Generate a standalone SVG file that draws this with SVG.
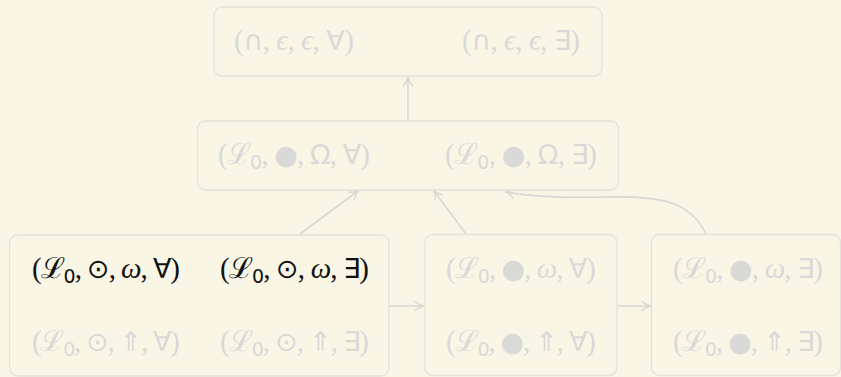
<svg xmlns="http://www.w3.org/2000/svg" width="841" height="377" viewBox="0 0 841 377">
  <defs>
    <marker id="arr" viewBox="0 0 12 12" refX="10" refY="6" markerWidth="12" markerHeight="12" markerUnits="userSpaceOnUse" orient="auto">
      <path d="M2,1.5 Q6,5 11,6 Q6,7 2,10.5" fill="none" stroke="#d9d8d3" stroke-width="1.5" stroke-linecap="round"/>
    </marker>
    <style>
      .box { fill: #f9f6e6; stroke: #e4e2d8; stroke-width: 1.3; }
      .t { font-family: "Liberation Serif", "DejaVu Serif", serif; font-size: 29px; fill: #d9d9d7; }
      .on { fill: #111111; }
      .it { font-style: italic; }
      .s { font-family: "DejaVu Sans", sans-serif; font-size: 27px; }
      .sub { font-family: "DejaVu Sans", sans-serif; font-size: 19px; }
      .edge { fill: none; stroke: #d9d8d3; stroke-width: 1.6; marker-end: url(#arr); }
    </style>
  </defs>
  <rect width="841" height="377" fill="#f9f6e6"/>

  <g id="edges">
    <path class="edge" d="M408,121 L408,78"/>
    <path class="edge" d="M300,234 L358,191"/>
    <path class="edge" d="M466,234 L434,191"/>
    <path class="edge" d="M706,234 C690,201 662,196 605,197 C565,198 535,197 506,192"/>
    <path class="edge" d="M389,306 L423,306"/>
    <path class="edge" d="M617,306 L650,306"/>
  </g>

  <g id="top">
    <rect class="box" x="214" y="7" width="388" height="69" rx="8"/>
    <text class="t" x="234" y="50" textLength="120">(<tspan class="s">∩</tspan>, <tspan class="it">ϵ</tspan>, <tspan class="it">ϵ</tspan>, <tspan class="s">∀</tspan>)</text>
    <text class="t" x="462" y="50" textLength="118">(<tspan class="s">∩</tspan>, <tspan class="it">ϵ</tspan>, <tspan class="it">ϵ</tspan>, <tspan class="s">∃</tspan>)</text>
  </g>

  <g id="middle">
    <rect class="box" x="197.5" y="121" width="421" height="69" rx="8"/>
    <text class="t" x="218" y="164" textLength="152">(ℒ<tspan class="sub" dy="5">0</tspan><tspan dy="-5">, </tspan><tspan class="s">●</tspan>, <tspan class="s">Ω</tspan>, <tspan class="s">∀</tspan>)</text>
    <text class="t" x="445" y="164" textLength="152">(ℒ<tspan class="sub" dy="5">0</tspan><tspan dy="-5">, </tspan><tspan class="s">●</tspan>, <tspan class="s">Ω</tspan>, <tspan class="s">∃</tspan>)</text>
  </g>

  <g id="left">
    <rect class="box" x="9.5" y="235" width="379.5" height="141" rx="8"/>
    <text class="t on" x="32" y="278" textLength="148">(ℒ<tspan class="sub" dy="5">0</tspan><tspan dy="-5">, </tspan><tspan class="s">⊙</tspan>, <tspan class="it">ω</tspan>, <tspan class="s">∀</tspan>)</text>
    <text class="t on" x="220" y="278" textLength="149">(ℒ<tspan class="sub" dy="5">0</tspan><tspan dy="-5">, </tspan><tspan class="s">⊙</tspan>, <tspan class="it">ω</tspan>, <tspan class="s">∃</tspan>)</text>
    <text class="t" x="32" y="351" textLength="148">(ℒ<tspan class="sub" dy="5">0</tspan><tspan dy="-5">, </tspan><tspan class="s">⊙</tspan>, <tspan class="s">⇑</tspan>, <tspan class="s">∀</tspan>)</text>
    <text class="t" x="220" y="351" textLength="149">(ℒ<tspan class="sub" dy="5">0</tspan><tspan dy="-5">, </tspan><tspan class="s">⊙</tspan>, <tspan class="s">⇑</tspan>, <tspan class="s">∃</tspan>)</text>
  </g>

  <g id="center">
    <rect class="box" x="425" y="234.5" width="192" height="141" rx="8"/>
    <text class="t" x="446" y="278" textLength="150">(ℒ<tspan class="sub" dy="5">0</tspan><tspan dy="-5">, </tspan><tspan class="s">●</tspan>, <tspan class="it">ω</tspan>, <tspan class="s">∀</tspan>)</text>
    <text class="t" x="446" y="351" textLength="150">(ℒ<tspan class="sub" dy="5">0</tspan><tspan dy="-5">, </tspan><tspan class="s">●</tspan>, <tspan class="s">⇑</tspan>, <tspan class="s">∀</tspan>)</text>
  </g>

  <g id="right">
    <rect class="box" x="651.5" y="234.5" width="189" height="141" rx="8"/>
    <text class="t" x="673" y="278" textLength="150">(ℒ<tspan class="sub" dy="5">0</tspan><tspan dy="-5">, </tspan><tspan class="s">●</tspan>, <tspan class="it">ω</tspan>, <tspan class="s">∃</tspan>)</text>
    <text class="t" x="673" y="351" textLength="150">(ℒ<tspan class="sub" dy="5">0</tspan><tspan dy="-5">, </tspan><tspan class="s">●</tspan>, <tspan class="s">⇑</tspan>, <tspan class="s">∃</tspan>)</text>
  </g>
</svg>
